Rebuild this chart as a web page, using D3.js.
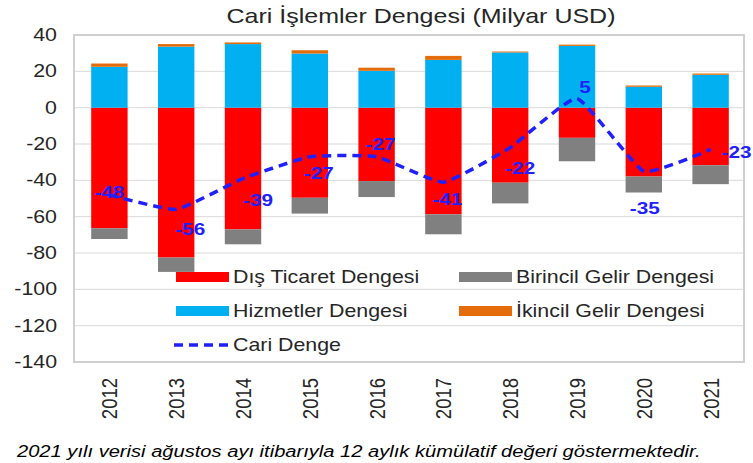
<!DOCTYPE html>
<html>
<head>
<meta charset="utf-8">
<script src="https://cdn.jsdelivr.net/npm/d3@7"></script>
<style>
  body { margin: 0; background: #fff; }
  text { font-family: "Liberation Sans", Arial, sans-serif; fill: #262626; }
</style>
</head>
<body>
<svg id="chart" width="753" height="463"></svg>
<script>
// Cari islemler dengesi - stacked bars + dashed total line

const years = ["2012","2013","2014","2015","2016","2017","2018","2019","2020","2021"];
const disTicaret = [-66.4, -82.5, -67.0, -49.6, -40.4, -58.7, -41.3, -16.6, -37.9, -31.7];
const birincilGelir = [-5.9, -7.9, -8.2, -8.7, -8.8, -11.0, -11.4, -12.9, -8.8, -10.4];
const hizmetler = [22.5, 33.6, 35.0, 29.8, 20.3, 26.3, 30.4, 34.0, 11.5, 18.1];
const ikincilGelir = [1.8, 1.4, 0.9, 1.8, 1.7, 2.2, 0.5, 0.7, 0.7, 0.7];
const cariDenge = [-48, -56, -39, -27, -27, -41, -22, 5, -35, -23];
const yTicks = [40, 20, 0, -20, -40, -60, -80, -100, -120, -140];

const title = "Cari İşlemler Dengesi (Milyar USD)";
const note = "2021 yılı verisi ağustos ayı itibarıyla 12 aylık kümülatif değeri göstermektedir.";

// where each line label sits relative to its point (looks hand placed in the source)
const labelShift = [[0,-3],[14,20],[15,22],[9,16],[4,-13],[4,17],[10,20],[8,-12],[1,37],[26,3]];

const SX = 1.22; // source picture is stretched sideways, so text is too

const series = [
  {key: "trade", name: "Dış Ticaret Dengesi", color: "#ff0000", vals: disTicaret},
  {key: "primary", name: "Birincil Gelir Dengesi", color: "#808080", vals: birincilGelir},
  {key: "services", name: "Hizmetler Dengesi", color: "#00b0f0", vals: hizmetler},
  {key: "secondary", name: "İkincil Gelir Dengesi", color: "#e46c0a", vals: ikincilGelir}
];

const rows = years.map((yr, i) => {
  const r = {year: yr};
  series.forEach(s => r[s.key] = s.vals[i]);
  return r;
});

const svg = d3.select("#chart");
const plotL = 76, plotR = 744, plotT = 35, plotB = 362;

const x = d3.scaleBand().domain(years).range([plotL, plotR])
  .paddingInner(0.455).paddingOuter(0.2275);
const y = d3.scaleLinear().domain([-140, 40]).range([plotB, plotT]);

function stretchText(sel, px, py, extra) {
  return sel.attr("transform", `translate(${px},${py}) scale(${SX},1)` + (extra || ""));
}

// gridlines
svg.append("g").selectAll("line").data(yTicks).join("line")
  .attr("x1", 74).attr("x2", plotR)
  .attr("y1", d => y(d)).attr("y2", d => y(d))
  .attr("stroke", "#d9d9d9").attr("stroke-width", 1);

// frame
svg.append("rect")
  .attr("x", 74).attr("y", plotT).attr("width", plotR - 74).attr("height", plotB - plotT)
  .attr("fill", "none").attr("stroke", "#d0d0d0").attr("stroke-width", 2);

// y labels
svg.append("g").selectAll("text").data(yTicks).join("text")
  .each(function(d) { stretchText(d3.select(this), 57, y(d)); })
  .attr("text-anchor", "end").attr("dy", "0.35em")
  .style("font-size", "17.5px")
  .text(d => d);

// x labels
svg.append("g").selectAll("text").data(years).join("text")
  .each(function(d) { stretchText(d3.select(this), x(d) + x.bandwidth() / 2, 378, " rotate(-90)"); })
  .attr("text-anchor", "end").attr("dy", "0.35em")
  .style("font-size", "18.5px")
  .text(d => d);

// stacked bars
const stack = d3.stack().keys(series.map(s => s.key)).offset(d3.stackOffsetDiverging);
const layers = stack(rows);

svg.append("g").selectAll("g").data(layers).join("g")
  .attr("fill", (d, i) => series[i].color)
  .selectAll("rect").data(d => d).join("rect")
  .attr("x", d => x(d.data.year))
  .attr("width", x.bandwidth())
  .attr("y", d => y(d[1]))
  .attr("height", d => Math.abs(y(d[0]) - y(d[1])));

// total line
const cx = d => x(d) + x.bandwidth() / 2;
const line = d3.line()
  .x((d, i) => cx(years[i]))
  .y(d => y(d))
  .curve(d3.curveCardinal.tension(0.6));

svg.append("path")
  .datum(cariDenge)
  .attr("d", line)
  .attr("fill", "none")
  .attr("stroke", "#2020ff")
  .attr("stroke-width", 3.5)
  .attr("stroke-dasharray", "9,6");

svg.append("g").selectAll("text").data(cariDenge).join("text")
  .each(function(d, i) {
    stretchText(d3.select(this), cx(years[i]) + labelShift[i][0], y(d) + labelShift[i][1]);
  })
  .attr("text-anchor", "middle").attr("dy", "0.35em")
  .style("font-size", "17px").style("font-weight", "bold").style("fill", "#2020ff")
  .text(d => d);

// legend
const legendItems = [
  {s: series[0], col: 0, row: 0},
  {s: series[1], col: 1, row: 0},
  {s: series[2], col: 0, row: 1},
  {s: series[3], col: 1, row: 1}
];
const colX = [176, 459], rowY = [277, 311, 345];

const lg = svg.append("g");
legendItems.forEach(it => {
  lg.append("rect")
    .attr("x", colX[it.col]).attr("y", rowY[it.row] - 5)
    .attr("width", 53).attr("height", 10)
    .attr("fill", it.s.color);
  lg.append("text")
    .call(stretchText, colX[it.col] + 57, rowY[it.row])
    .attr("dy", "0.35em")
    .style("font-size", "17.5px")
    .text(it.s.name);
});
lg.append("line")
  .attr("x1", 174).attr("x2", 230).attr("y1", rowY[2]).attr("y2", rowY[2])
  .attr("stroke", "#2020ff").attr("stroke-width", 3.5).attr("stroke-dasharray", "9,6");
lg.append("text")
  .call(stretchText, 233, rowY[2])
  .attr("dy", "0.35em")
  .style("font-size", "17.5px")
  .text("Cari Denge");

// title
svg.append("text")
  .call(stretchText, 421, 23)
  .attr("text-anchor", "middle")
  .style("font-size", "20.5px")
  .text(title);

// footnote
svg.append("text")
  .call(stretchText, 17, 457)
  .style("font-size", "16.5px").style("font-style", "italic").style("fill", "#000")
  .text(note);
</script>
</body>
</html>
